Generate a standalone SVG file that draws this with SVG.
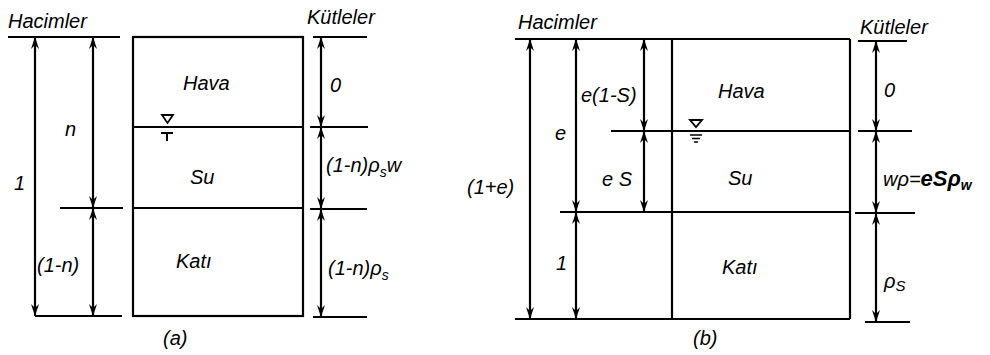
<svg xmlns="http://www.w3.org/2000/svg" width="990" height="355" viewBox="0 0 990 355">
<style>
.l{stroke:#000;stroke-width:2.2;fill:none}
.a{stroke:#000;stroke-width:2.2;fill:none;marker-start:url(#ah);marker-end:url(#ah)}
text{font-family:"Liberation Sans",Arial,sans-serif;font-style:italic;fill:#000}
.h{font-size:20px}
.m{font-size:20px}
.b{font-weight:bold}
</style>
<defs>
<marker id="ah" viewBox="0 0 12 8" refX="12" refY="4" markerWidth="12" markerHeight="8" markerUnits="userSpaceOnUse" orient="auto-start-reverse">
<path d="M0,0 L12,4 L0,8 L4,4 Z" fill="#000"/>
</marker>
</defs>
<rect width="990" height="355" fill="#fff"/>

<g id="diagram-a">
<g id="a-box">
<rect class="l" x="133" y="37" width="170" height="279"/>
<line class="l" x1="133" y1="127" x2="303" y2="127"/>
<line class="l" x1="133" y1="208" x2="303" y2="208"/>
<text class="m" x="183" y="90">Hava</text>
<text class="m" x="190" y="184">Su</text>
<text class="m" x="176" y="268">Katı</text>
</g>
<g id="a-water">
<path d="M162,115 L173,115 L167.5,123 Z" fill="none" stroke="#000" stroke-width="1.8"/>
<path d="M161,132 L173,132 L173,134 L168,134 L168,141 L166,141 L166,134 L161,134 Z" fill="#000"/>
</g>
<g id="a-volumes">
<text class="h" x="8" y="28">Hacimler</text>
<text class="m" x="14" y="190">1</text>
<text class="m" x="65" y="136">n</text>
<text class="m" x="37" y="272">(1-n)</text>
</g>
<g id="a-masses">
<text class="h" x="307" y="24">Kütleler</text>
<text class="m" x="330" y="92">0</text>
<text class="m" x="326" y="172">(1-n)ρ<tspan font-size="14" dy="5">s</tspan><tspan dy="-5">w</tspan></text>
<text class="m" x="328" y="275">(1-n)ρ<tspan font-size="14" dy="5">s</tspan></text>
</g>
<text id="a-caption" class="m" x="163" y="345">(a)</text>
</g>

<g id="diagram-b">
<g id="b-box">
<line class="l" x1="672" y1="39" x2="672" y2="319"/>
<line class="l" x1="850" y1="39" x2="850" y2="319"/>
<line class="l" x1="611" y1="131" x2="850" y2="131"/>
<line class="l" x1="560" y1="212" x2="850" y2="212"/>
<text class="m" x="718" y="98">Hava</text>
<text class="m" x="728" y="185">Su</text>
<text class="m" x="722" y="274">Katı</text>
</g>
<g id="b-water">
<path d="M690,120 L702,120 L696,127 Z" fill="none" stroke="#000" stroke-width="1.8"/>
<line x1="690" y1="135" x2="702" y2="135" stroke="#000" stroke-width="1.5"/>
<line x1="692" y1="138.5" x2="700" y2="138.5" stroke="#000" stroke-width="1.5"/>
<line x1="694" y1="142" x2="698" y2="142" stroke="#000" stroke-width="1.5"/>
</g>
<g id="b-volumes">
<text class="h" x="518" y="29">Hacimler</text>
<text class="m" x="467" y="194" font-size="21">(1+e)</text>
<text class="m" x="555" y="140">e</text>
<text class="m" x="581" y="102">e(1-S)</text>
<text class="m" x="602" y="186">e S</text>
<text class="m" x="556" y="270">1</text>
</g>
<g id="b-masses">
<text class="h" x="860" y="34">Kütleler</text>
<text class="m" x="884" y="97">0</text>
<text class="m" x="883" y="186">wρ=<tspan class="b" font-size="22">eSρ</tspan><tspan class="b" font-size="14" dy="4">w</tspan></text>
<text class="m" x="884" y="288" font-size="22">ρ<tspan font-size="15" dy="3">S</tspan></text>
</g>
<text id="b-caption" class="m" x="693" y="345">(b)</text>
</g>

<g id="connectors">
<line class="l" x1="8" y1="37" x2="120" y2="37"/>
<line class="l" x1="60" y1="208" x2="123" y2="208"/>
<line class="l" x1="35" y1="316" x2="122" y2="316"/>
<line class="a" x1="35" y1="37" x2="35" y2="316"/>
<line class="a" x1="93" y1="37" x2="93" y2="208"/>
<line class="a" x1="93" y1="208" x2="93" y2="316"/>
<line class="l" x1="313" y1="37" x2="367" y2="37"/>
<line class="l" x1="310" y1="127" x2="368" y2="127"/>
<line class="l" x1="310" y1="209" x2="367" y2="209"/>
<line class="l" x1="313" y1="317" x2="367" y2="317"/>
<line class="a" x1="321" y1="37" x2="321" y2="127"/>
<line class="a" x1="321" y1="127" x2="321" y2="209"/>
<line class="a" x1="321" y1="209" x2="321" y2="317"/>

<line class="l" x1="515" y1="39" x2="850" y2="39"/>
<line class="l" x1="515" y1="319" x2="850" y2="319"/>
<line class="a" x1="530" y1="39" x2="530" y2="319"/>
<line class="a" x1="576" y1="39" x2="576" y2="212"/>
<line class="a" x1="576" y1="212" x2="576" y2="319"/>
<line class="a" x1="644" y1="39" x2="644" y2="131"/>
<line class="a" x1="644" y1="131" x2="644" y2="212"/>
<line class="l" x1="858" y1="41" x2="907" y2="41"/>
<line class="l" x1="858" y1="131" x2="912" y2="131"/>
<line class="l" x1="855" y1="213" x2="915" y2="213"/>
<line class="l" x1="865" y1="322" x2="910" y2="322"/>
<line class="a" x1="876" y1="41" x2="876" y2="131"/>
<line class="a" x1="876" y1="131" x2="876" y2="213"/>
<line class="a" x1="876" y1="213" x2="876" y2="322"/>
</g>
</svg>
